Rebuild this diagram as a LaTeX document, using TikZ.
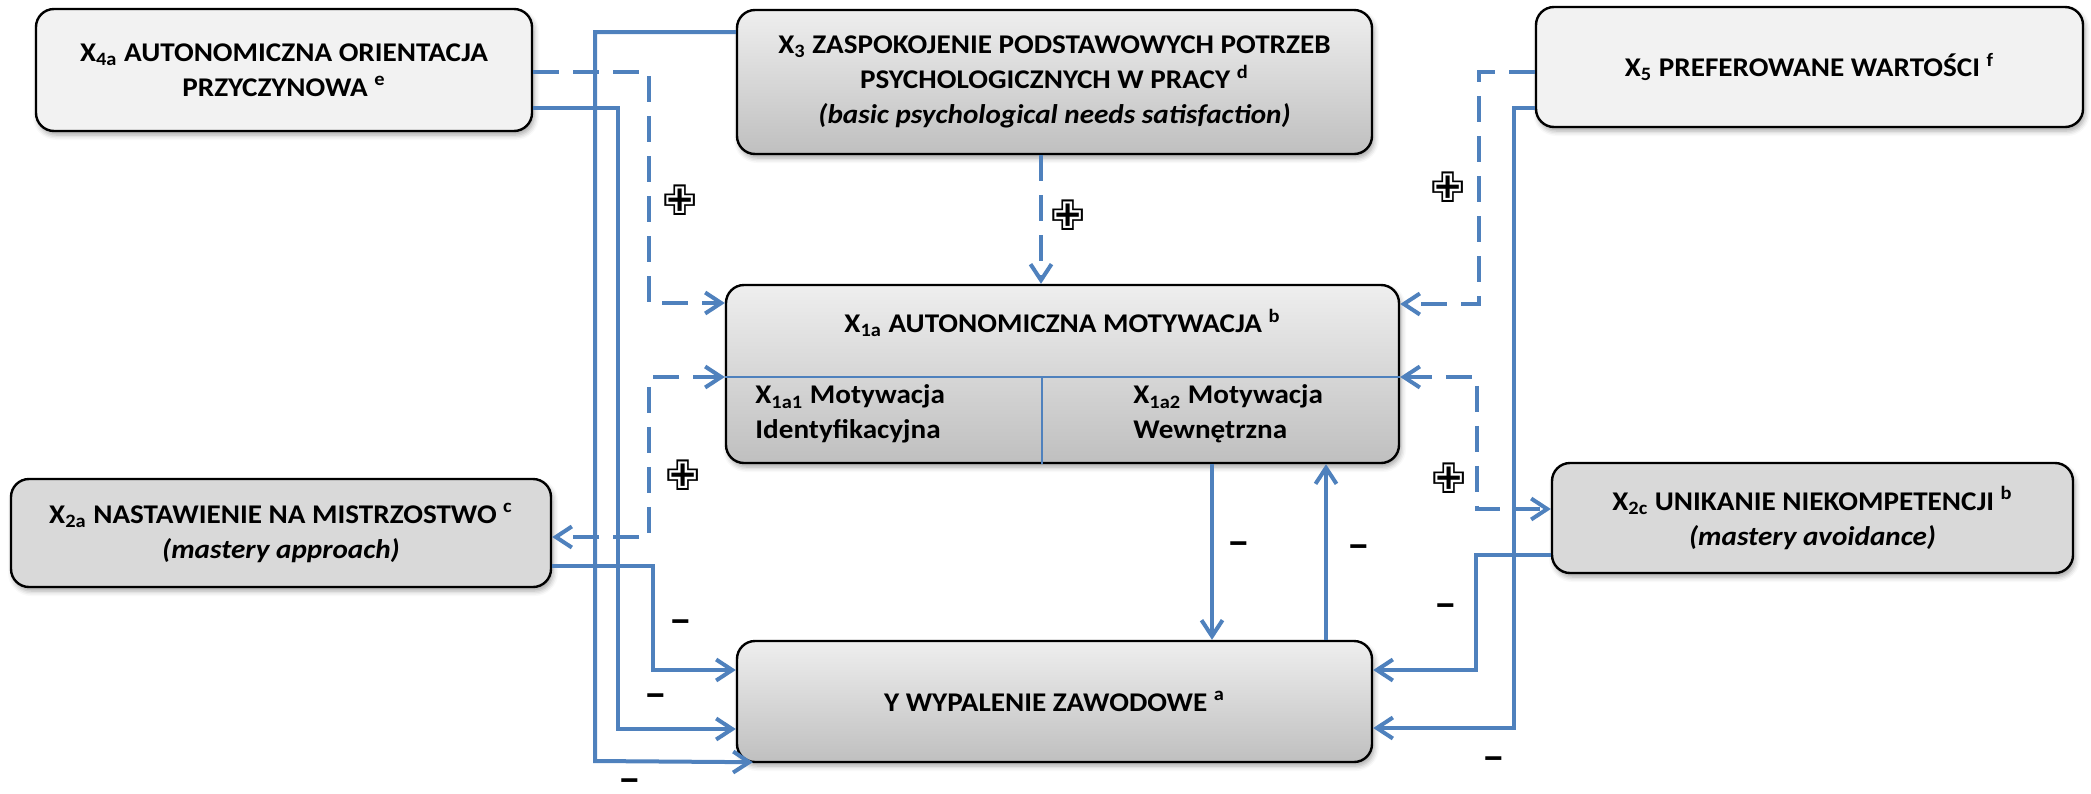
\documentclass[tikz,border=0pt]{standalone}
\usepackage{fontspec}
\setmainfont{Carlito}[FakeStretch=1.08]
\newfontfamily\symbfont{DejaVu Sans}
\usetikzlibrary{arrows.meta,shadows.blur}

\definecolor{linkblue}{HTML}{4F81BD}

\tikzset{
  box/.style={draw=black, line width=1.2pt, rounded corners=9pt, align=center,
    inner sep=0pt, font=\fontsize{13.5}{17.5}\selectfont\bfseries,
    blur shadow={shadow xshift=1pt, shadow yshift=-2pt, shadow blur radius=2.5pt, shadow opacity=35}},
  flatbox/.style={box, fill=gray!10},
  greybox/.style={box, fill=gray!30},
  shadebox/.style={box, top color=gray!13, bottom color=gray!50},
  boxtext/.style={font=\fontsize{13.5}{17.5}\selectfont\bfseries, inner sep=0pt},
  link/.style={draw=linkblue, line width=2pt, -{Straight Barb[length=8pt, width=10.5pt]}},
  dlink/.style={link, dash pattern=on 13pt off 7pt},
  twoway/.style={{Straight Barb[length=8pt, width=10.5pt]}-{Straight Barb[length=8pt, width=10.5pt]}},
  plus/.style={font=\fontsize{21}{21}\selectfont\symbfont, inner sep=0pt},
  minus/.style={font=\fontsize{21}{21}\selectfont\bfseries, inner sep=0pt, text height=0.3em, text depth=0pt}
}

\begin{document}
\begin{tikzpicture}[x=0.5pt, y=-0.5pt]
  \useasboundingbox (0,0) rectangle (2091,793);

  % boxes
  \node[flatbox, minimum width=248pt, minimum height=61pt] (X4a) at (284,70)
    {X\textsubscript{4a} AUTONOMICZNA ORIENTACJA\\PRZYCZYNOWA \textsuperscript{e}};
  \node[shadebox, minimum width=317.5pt, minimum height=72pt] (X3) at (1054.5,82)
    {X\textsubscript{3} ZASPOKOJENIE PODSTAWOWYCH POTRZEB\\PSYCHOLOGICZNYCH W PRACY \textsuperscript{d}\\\textit{(basic psychological needs satisfaction)}};
  \node[flatbox, minimum width=273.5pt, minimum height=60pt] (X5) at (1809.5,67)
    {X\textsubscript{5} PREFEROWANE WARTOŚCI \textsuperscript{f}};
  \node[shadebox, minimum width=336.5pt, minimum height=89pt] (X1a) at (1062.5,374) {};
  \node[greybox, minimum width=270pt, minimum height=54pt] (X2a) at (281,533)
    {X\textsubscript{2a} NASTAWIENIE NA MISTRZOSTWO \textsuperscript{c}\\\textit{(mastery approach)}};
  \node[greybox, minimum width=260.5pt, minimum height=55pt] (X2c) at (1812.5,518)
    {X\textsubscript{2c} UNIKANIE NIEKOMPETENCJI \textsuperscript{b}\\\textit{(mastery avoidance)}};
  \node[shadebox, minimum width=317.5pt, minimum height=60.5pt] (Y) at (1054.5,701.5)
    {Y WYPALENIE ZAWODOWE \textsuperscript{a}};

  % inside X1a
  \draw[linkblue, line width=0.8pt] (X1a.west |- 0,377) -- (X1a.east |- 0,377);
  \draw[linkblue, line width=0.8pt] (1042,377) -- (X1a.south -| 1042,0);
  \node[boxtext] (X1atitle) at (1062.5,323) {X\textsubscript{1a} AUTONOMICZNA MOTYWACJA \textsuperscript{b}};
  \node[boxtext, anchor=west, align=left] (X1a1) at (755,414) {X\textsubscript{1a1} Motywacja\\Identyfikacyjna};
  \node[boxtext, anchor=west, align=left] (X1a2) at (1133,414) {X\textsubscript{1a2} Motywacja\\Wewnętrzna};

  % solid links to Y
  \draw[link] (X3.west |- 0,32) -- (595,32) -- (595,761) -- ([shift={(17,-1)}]Y.south west);
  \draw[link] (X4a.east |- 0,108) -- (618,108) -- (618,729) -- (Y.west |- 0,729);
  \draw[link] (X2a.east |- 0,566) -- (653,566) -- (653,670) -- (Y.west |- 0,670);
  \draw[link] (X1a.south -| 1212,0) -- (Y.north -| 1212,0);
  \draw[link] (Y.north -| 1326,0) -- (X1a.south -| 1326,0);
  \draw[link] (X2c.west |- 0,555) -- (1476,555) -- (1476,670) -- (Y.east |- 0,670);
  \draw[link] (X5.west |- 0,108) -- (1514,108) -- (1514,728) -- (Y.east |- 0,728);

  % dashed links to X1a
  \draw[dlink] (X4a.east |- 0,72) -- (649,72) -- (649,303) -- (X1a.west |- 0,303);
  \draw[dlink] (X3.south -| 1041,0) -- (X1a.north -| 1041,0);
  \draw[dlink] (X5.west |- 0,72) -- (1479,72) -- (1479,304) -- (X1a.east |- 0,304);
  \draw[dlink, twoway] (X1a.west |- 0,377) -- (649,377) -- (649,537) -- (X2a.east |- 0,537);
  \draw[dlink, twoway] (X1a.east |- 0,377) -- (1477,377) -- (1477,509) -- (X2c.west |- 0,509);

  % signs
  \node[plus] (p1) at (680,200) {✙};
  \node[plus] (p2) at (1068,215) {✙};
  \node[plus] (p3) at (1448,187) {✙};
  \node[plus] (p4) at (683,475) {✙};
  \node[plus] (p5) at (1449,478) {✙};
  \node[minus] (m1) at (681,630) {–};
  \node[minus] (m2) at (656,704) {–};
  \node[minus] (m3) at (630,789) {–};
  \node[minus] (m4) at (1239,552) {–};
  \node[minus] (m5) at (1359,555) {–};
  \node[minus] (m6) at (1446,614) {–};
  \node[minus] (m7) at (1494,767) {–};
\end{tikzpicture}
\end{document}
